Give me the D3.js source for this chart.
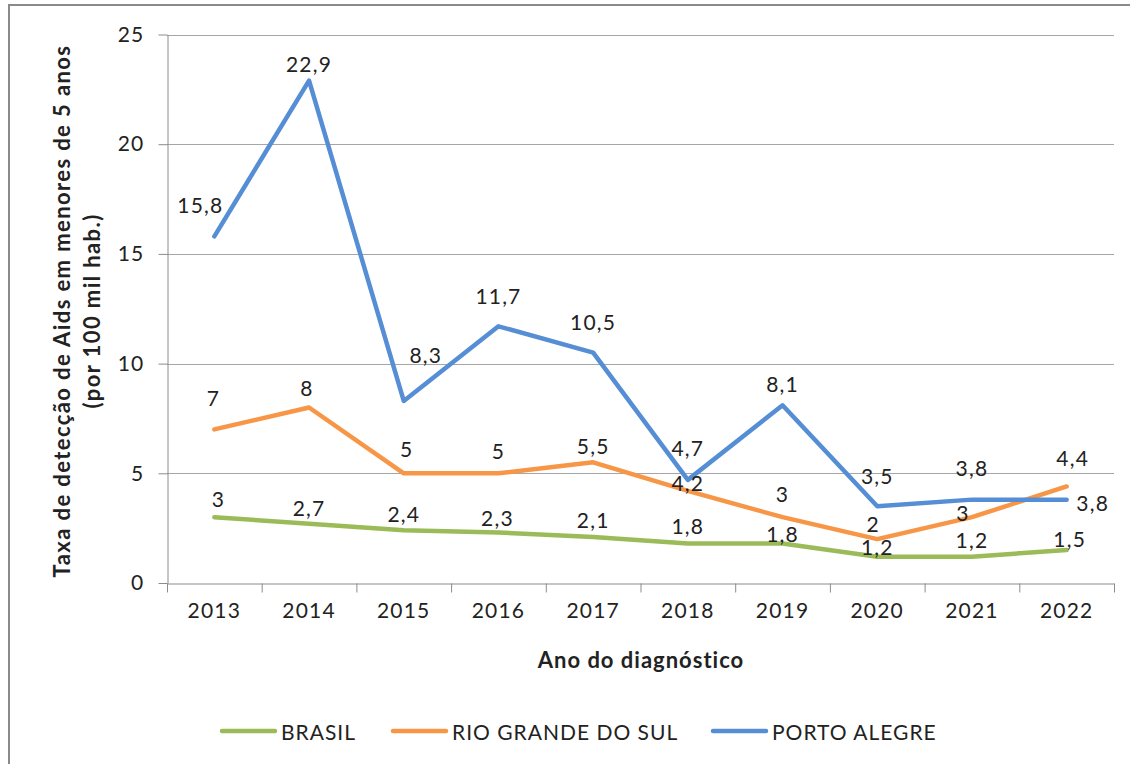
<!DOCTYPE html>
<html>
<head>
<meta charset="utf-8">
<script src="https://cdn.jsdelivr.net/npm/d3@7"></script>
<style>
  body { margin: 0; background: #fff; }
  svg text { font-family: Lato, "Open Sans", sans-serif; fill: #222; }
</style>
</head>
<body>
<svg id="chart"></svg>
<script>
// data
var years = ["2013","2014","2015","2016","2017","2018","2019","2020","2021","2022"];
var brasil = [3, 2.7, 2.4, 2.3, 2.1, 1.8, 1.8, 1.2, 1.2, 1.5];
var rioGrande = [7, 8, 5, 5, 5.5, 4.2, 3, 2, 3, 4.4];
var portoAlegre = [15.8, 22.9, 8.3, 11.7, 10.5, 4.7, 8.1, 3.5, 3.8, 3.8];
var yTicks = [0, 5, 10, 15, 20, 25];

// label nudges (px) relative to each point, as placed in the original
var nudgeBrasil = [[4,-19],[0,-16],[0,-17],[-1,-15],[0,-17],[0,-18],[0,-10],[0,-10],[0,-17],[3,-12]];
var nudgeRio = [[-1,-32],[-2,-20],[3,-25],[0,-23],[0,-17],[0,-8],[0,-24],[-4,-16],[-9,-5],[6,-29]];
var nudgePorto = [[-14,-32],[0,-17],[22,-46],[0,-31],[0,-31],[0,-32],[0,-22],[0,-31],[0,-32],[26,3]];

var width = 1130, height = 764;
var margin = {top: 34.5, left: 167, right: 16, bottom: 181};

var svg = d3.select("#chart")
    .attr("width", width)
    .attr("height", height);

// outer frame (runs off right/bottom in the original)
svg.append("rect")
    .attr("x", 9).attr("y", 5)
    .attr("width", 1130).attr("height", 800)
    .attr("fill", "none")
    .attr("stroke", "#8a8a8a")
    .attr("stroke-width", 2);

var x = d3.scaleBand()
    .domain(years)
    .range([margin.left, width - margin.right])
    .padding(0);

var xb = d3.scaleLinear()
    .domain([0, years.length])
    .range([margin.left, width - margin.right]);

var y = d3.scaleLinear()
    .domain([0, 25])
    .range([height - margin.bottom, margin.top]);

// gridlines
svg.append("g")
    .selectAll("line")
    .data(yTicks.slice(1))
    .enter()
    .append("line")
    .attr("x1", margin.left)
    .attr("x2", width - margin.right)
    .attr("y1", function(d){ return Math.round(y(d)) + 0.5; })
    .attr("y2", function(d){ return Math.round(y(d)) + 0.5; })
    .attr("stroke", "#a6a6a6")
    .attr("stroke-width", 1);

// y axis
var yAxis = svg.append("g")
    .attr("transform", "translate(" + (margin.left + 0.5) + ",0)")
    .call(d3.axisLeft(y).tickValues(yTicks).tickSize(9).tickSizeOuter(0).tickPadding(14));
yAxis.selectAll("text")
    .style("font-size", "21px")
    .style("letter-spacing", "1.2px")
    .style("font-family", "Lato, sans-serif")
    .attr("fill", "#222");

// x axis: boundary ticks
svg.append("g")
    .attr("transform", "translate(0," + (Math.round(y(0)) + 0.5) + ")")
    .call(d3.axisBottom(xb).tickValues(d3.range(0, years.length + 1)).tickSize(9).tickSizeOuter(0).tickFormat(""));

// x category labels
svg.append("g")
    .selectAll("text")
    .data(years)
    .enter()
    .append("text")
    .attr("x", function(d){ return x(d) + x.bandwidth() / 2; })
    .attr("y", y(0) + 35)
    .attr("text-anchor", "middle")
    .style("font-size", "21px")
    .style("letter-spacing", "1.2px")
    .text(function(d){ return d; });

svg.selectAll(".domain, .tick line").attr("stroke", "#8c8c8c");

// axis titles
svg.append("text")
    .attr("x", 641).attr("y", 668)
    .attr("text-anchor", "middle")
    .style("font-size", "22px")
    .style("letter-spacing", "1px")
    .style("font-weight", "bold")
    .text("Ano do diagnóstico");

var yTitle = svg.append("text")
    .attr("transform", "translate(0,311) rotate(-90)")
    .attr("text-anchor", "middle")
    .style("font-size", "22px")
    .style("letter-spacing", "1.4px")
    .style("font-weight", "bold");
yTitle.append("tspan").attr("x", 0).attr("y", 70).text("Taxa de detecção de Aids em menores de 5 anos");
yTitle.append("tspan").attr("x", 0).attr("y", 100).text("(por 100 mil hab.)");

var series = [
    {name: "BRASIL", values: brasil, color: "#9bbb59", nudge: nudgeBrasil},
    {name: "RIO GRANDE DO SUL", values: rioGrande, color: "#f79646", nudge: nudgeRio},
    {name: "PORTO ALEGRE", values: portoAlegre, color: "#558ed5", nudge: nudgePorto}
];

var line = d3.line()
    .x(function(d, i){ return x(years[i]) + x.bandwidth() / 2; })
    .y(function(d){ return y(d); });

series.forEach(function(s){
    svg.append("path")
        .datum(s.values)
        .attr("d", line)
        .attr("fill", "none")
        .attr("stroke", s.color)
        .attr("stroke-width", 4.5)
        .attr("stroke-linejoin", "round")
        .attr("stroke-linecap", "round");
});

// data labels
series.forEach(function(s){
    svg.append("g")
        .selectAll("text")
        .data(s.values)
        .enter()
        .append("text")
        .attr("x", function(d, i){ return x(years[i]) + x.bandwidth() / 2 + s.nudge[i][0]; })
        .attr("y", function(d, i){ return y(d) + s.nudge[i][1]; })
        .attr("text-anchor", "middle")
        .attr("dominant-baseline", "central")
        .style("font-size", "21px")
        .style("letter-spacing", "1.2px")
        .text(function(d){ return String(d).replace(".", ","); });
});

// legend
var legendX = [222, 393, 713];
var leg = svg.append("g");
series.forEach(function(s, i){
    leg.append("line")
        .attr("x1", legendX[i]).attr("x2", legendX[i] + 53)
        .attr("y1", 731).attr("y2", 731)
        .attr("stroke", s.color)
        .attr("stroke-width", 4.5)
        .attr("stroke-linecap", "round");
    leg.append("text")
        .attr("x", legendX[i] + 59).attr("y", 731)
        .attr("dominant-baseline", "central")
        .style("font-size", "21px")
        .style("letter-spacing", "1px")
        .text(s.name);
});
</script>
</body>
</html>
